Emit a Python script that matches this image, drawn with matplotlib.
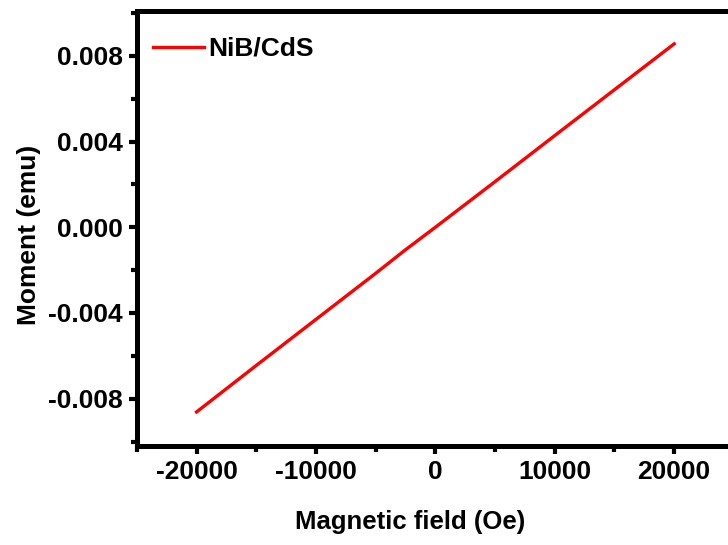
import matplotlib
matplotlib.use("Agg")
import matplotlib.pyplot as plt
from matplotlib.ticker import MultipleLocator

# M-H data
field = [-20000, -15000, -10000, -5000, -2500, 0, 5000, 10000, 15000, 20000]
moment = [-0.00862, -0.00645, -0.00430, -0.00215, -0.00105, 0.0, 0.00213, 0.00428, 0.00642, 0.00856]
series_label = "NiB/CdS"

plt.rcParams['font.family'] = ['Liberation Sans', 'DejaVu Sans']
plt.rcParams['font.weight'] = 'bold'
plt.rcParams['axes.unicode_minus'] = False

fig = plt.figure(figsize=(7.28, 5.45), dpi=100)
ax = fig.add_axes([0.188, 0.182, 0.82, 0.798])

ax.plot(field, moment, color='#ff0000', lw=2.4, label=series_label)

ax.set_xlim(-25000, 25000)
ax.set_ylim(-0.0102, 0.0101)
ax.xaxis.set_major_locator(MultipleLocator(10000))
ax.xaxis.set_minor_locator(MultipleLocator(5000))
ax.yaxis.set_major_locator(MultipleLocator(0.004))
ax.yaxis.set_minor_locator(MultipleLocator(0.002))
ax.yaxis.set_major_formatter(plt.FuncFormatter(lambda v, p: f"{v:.3f}"))

for sp in ax.spines.values():
  sp.set_linewidth(3.6)
ax.tick_params(which='major', direction='out', length=6, width=3, labelsize=19, pad=4)
ax.tick_params(which='minor', direction='out', length=4, width=3)
for lbl in ax.get_xticklabels() + ax.get_yticklabels():
  lbl.set_fontweight('bold')

ax.set_xlabel("Magnetic field (Oe)", fontsize=18.5, fontweight='bold', labelpad=19)
ax.set_ylabel("Moment (emu)", fontsize=19, fontweight='bold', labelpad=5)
# labels in the original sit a little off the axes centre
ax.xaxis.label.set_x(0.458)
ax.yaxis.label.set_y(0.485)

ax.legend(loc='upper left', frameon=False, prop={'size': 19, 'weight': 'bold'},
          handlelength=1.95, handletextpad=0.15, borderaxespad=0.2,
          bbox_to_anchor=(0.0, 0.977))

fig.savefig("out.png", dpi=100)
